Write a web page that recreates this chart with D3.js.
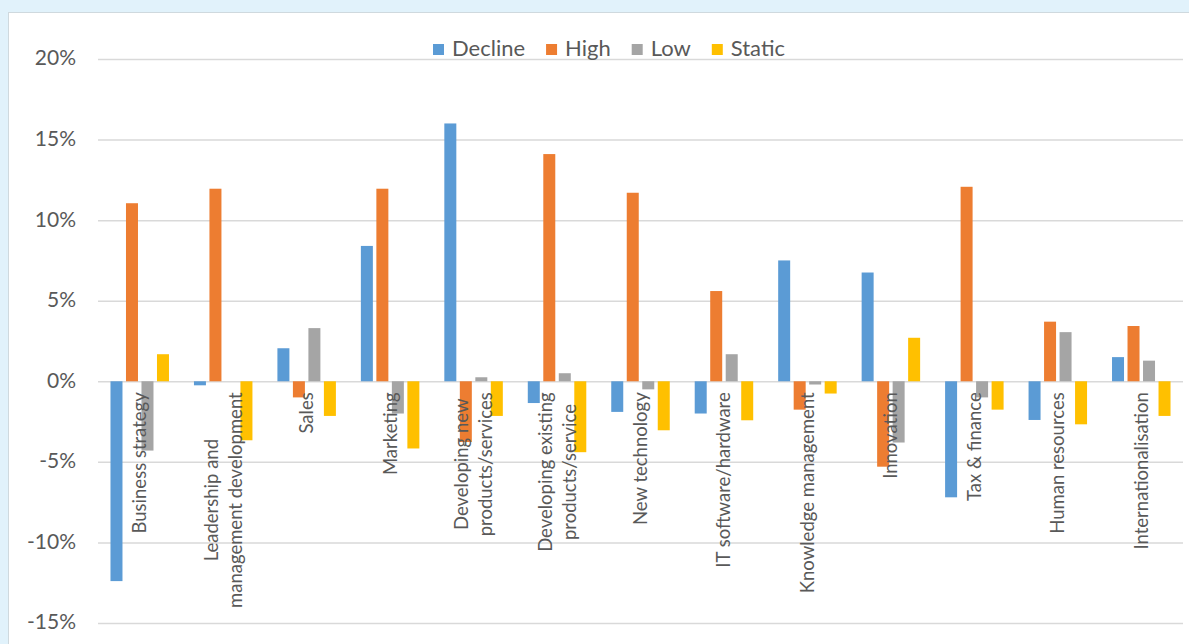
<!DOCTYPE html>
<html>
<head>
<meta charset="utf-8">
<script src="https://cdn.jsdelivr.net/npm/d3@7"></script>
<style>
  html, body { margin: 0; padding: 0; background: #e1f2fb; }
  svg { display: block; }
  text { font-family: Lato, "Open Sans", sans-serif; fill: #595959; }
</style>
</head>
<body>
<svg id="chart" width="1189" height="644"></svg>
<script>
// Change in share of firms reporting each training need, by growth group (%)
const categories = [
  "Business strategy",
  "Leadership and management development",
  "Sales",
  "Marketing",
  "Developing new products/services",
  "Developing existing products/service",
  "New technology",
  "IT software/hardware",
  "Knowledge management",
  "Innovation",
  "Tax & finance",
  "Human resources",
  "Internationalisation"
];
// How each category name is broken over lines on the axis
const categoryLines = [
  ["Business strategy"],
  ["Leadership and", "management development"],
  ["Sales"],
  ["Marketing"],
  ["Developing new", "products/services"],
  ["Developing existing", "products/service"],
  ["New technology"],
  ["IT software/hardware"],
  ["Knowledge management"],
  ["Innovation"],
  ["Tax & finance"],
  ["Human resources"],
  ["Internationalisation"]
];
const seriesNames = ["Decline", "High", "Low", "Static"];
const declineValues = [-12.4, -0.25, 2.05, 8.4, 16.0, -1.35, -1.9, -2.0, 7.5, 6.75, -7.2, -2.4, 1.5];
const highValues    = [11.05, 11.95, -1.0, 11.95, -3.77, 14.1, 11.7, 5.6, -1.76, -5.3, 12.07, 3.7, 3.43];
const lowValues     = [-4.3, 0, 3.3, -2.0, 0.25, 0.5, -0.5, 1.68, -0.2, -3.8, -1.0, 3.05, 1.28];
const staticValues  = [1.68, -3.66, -2.15, -4.17, -2.15, -4.4, -3.04, -2.42, -0.76, 2.7, -1.76, -2.67, -2.15];
const yTicks = [-15, -10, -5, 0, 5, 10, 15, 20];

const seriesValues = [declineValues, highValues, lowValues, staticValues];
const colors = ["#5b9bd5", "#ed7d31", "#a5a5a5", "#ffc000"];

const svg = d3.select("#chart");

// White chart panel
svg.append("rect")
  .attr("x", 8.5).attr("y", 12.5)
  .attr("width", 1200).attr("height", 650)
  .attr("fill", "#ffffff")
  .attr("stroke", "#cfd9de").attr("stroke-width", 1);

const plot = { left: 98, right: 1183, top: 59, bottom: 623 };

const x = d3.scaleBand()
  .domain(categories)
  .range([plot.left, plot.right])
  .padding(0);

const groupWidth = 62;
const xInner = d3.scaleBand()
  .domain(seriesNames)
  .range([(x.bandwidth() - groupWidth) / 2, (x.bandwidth() + groupWidth) / 2])
  .paddingInner(0.226)
  .paddingOuter(0.113);

const y = d3.scaleLinear()
  .domain([-15, 20])
  .range([plot.bottom, plot.top]);

// Gridlines and value labels
const yAxis = d3.axisLeft(y)
  .tickValues(yTicks)
  .tickSize(-(plot.right - plot.left))
  .tickPadding(22)
  .tickFormat(d => `${d}%`);

const gAxis = svg.append("g")
  .attr("transform", `translate(${plot.left},0)`)
  .call(yAxis);
gAxis.select(".domain").remove();
gAxis.selectAll(".tick line")
  .attr("stroke", "#d9d9d9")
  .attr("stroke-width", 1.5);
gAxis.selectAll(".tick text")
  .attr("font-size", 21)
  .attr("fill", "#595959")
  .attr("dy", "0.28em")
  .style("font-family", "Lato, 'Open Sans', sans-serif");

// Bars
const rows = categories.map((c, i) => ({
  category: c,
  values: seriesNames.map((s, k) => ({ series: s, value: seriesValues[k][i], color: colors[k] }))
}));

const groups = svg.append("g").selectAll("g")
  .data(rows)
  .join("g")
  .attr("transform", d => `translate(${x(d.category)},0)`);

groups.selectAll("rect")
  .data(d => d.values)
  .join("rect")
  .attr("x", d => xInner(d.series))
  .attr("width", xInner.bandwidth())
  .attr("y", d => Math.min(y(d.value), y(0)))
  .attr("height", d => Math.abs(y(d.value) - y(0)))
  .attr("fill", d => d.color);

// Category labels, rotated and hanging just below the zero line
const labelTop = y(0) + 11;
const lineHeight = 24;
categories.forEach((c, i) => {
  const lines = categoryLines[i];
  const cx = x(c) + x.bandwidth() / 2;
  const g = svg.append("g")
    .attr("transform", `translate(${cx},${labelTop}) rotate(-90)`);
  const texts = g.selectAll("text")
    .data(lines)
    .join("text")
    .attr("text-anchor", "middle")
    .attr("font-size", 18.5)
    .attr("y", (d, j) => (j - (lines.length - 1) / 2) * lineHeight)
    .attr("dy", "0.35em")
    .text(d => d);
  let maxLen = 0;
  texts.each(function () { maxLen = Math.max(maxLen, this.getComputedTextLength()); });
  texts.attr("x", -maxLen / 2);
});

// Legend
const legend = svg.append("g").attr("transform", "translate(433,0)");
let lx = 0;
seriesNames.forEach((s, k) => {
  legend.append("rect")
    .attr("x", lx).attr("y", 44)
    .attr("width", 11).attr("height", 11)
    .attr("fill", colors[k]);
  const t = legend.append("text")
    .attr("x", lx + 19).attr("y", 56)
    .attr("font-size", 22)
    .text(s);
  lx += 19 + t.node().getComputedTextLength() + 21;
});
</script>
</body>
</html>
